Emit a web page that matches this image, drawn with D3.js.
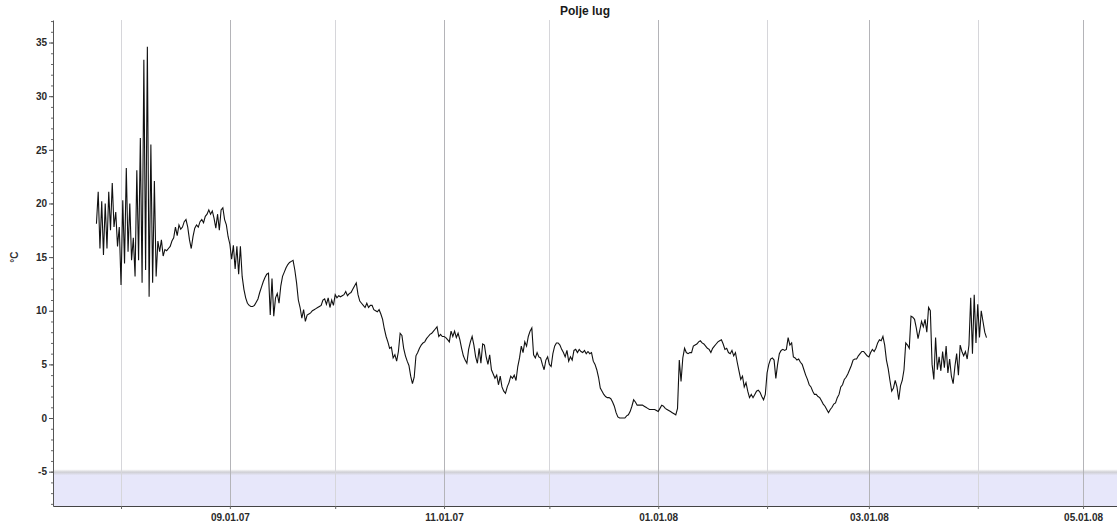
<!DOCTYPE html>
<html>
<head>
<meta charset="utf-8">
<script src="https://cdn.jsdelivr.net/npm/d3@7"></script>
<style>
  html, body { margin: 0; padding: 0; background: #fff; }
  svg { display: block; }
  text { font-family: "Liberation Sans", Arial, sans-serif; }
</style>
</head>
<body>
<svg id="chart" width="1117" height="527"></svg>
<script>
// ---------------- data ----------------
const chartTitle = "Polje lug";
const yLabel = "°C";
// half-daily temperature readings, first reading 25 Jul 2007 00:00, one every 12 h
const startDate = "2007-07-25T00:00";
const stepHours = 12;
const temps = [
  18.1, 21.1, 15.8, 20.2, 15.2, 20.0, 15.8, 21.1, 17.5, 21.9,
  17.8, 19.2, 16.0, 17.8, 12.4, 20.3, 14.4, 23.3, 15.5, 20.0,
  14.7, 16.8, 13.2, 23.1, 14.7, 26.1, 12.6, 33.4, 13.8, 34.6,
  11.3, 25.5, 12.6, 22.1, 13.2, 16.5, 15.5, 16.6, 15.1, 15.7,
  15.6, 15.8, 16.0, 16.5, 16.8, 17.8, 17.0, 18.0, 17.6, 17.8,
  18.3, 18.5, 17.8, 16.6, 15.8, 16.9, 17.7, 18.0, 17.8, 18.3,
  18.5, 18.2, 18.8, 19.0, 19.4, 19.0, 19.3, 18.6, 17.7, 19.0,
  17.5, 19.4, 19.6, 18.5, 18.0, 16.9, 16.2, 14.8, 16.1, 13.9,
  16.0, 13.4, 16.0, 13.2, 12.0, 11.2, 10.7, 10.5, 10.4, 10.4,
  10.5, 10.8, 11.1, 11.7, 12.2, 12.7, 13.1, 13.4, 13.5, 9.6,
  13.0, 9.5, 11.2, 11.6, 10.7, 12.3, 13.2, 13.6, 14.0, 14.3,
  14.5, 14.6, 14.7, 13.8, 12.6, 11.0, 10.3, 9.3, 10.1, 9.0,
  9.6, 9.7, 9.8, 10.0, 10.1, 10.2, 10.3, 10.4, 10.5, 11.0,
  11.1, 10.6, 11.2, 10.3, 11.0, 10.5, 11.5, 11.2, 11.4, 11.3,
  11.4, 11.5, 11.8, 11.4, 11.6, 11.7, 12.0, 12.3, 12.6, 11.5,
  10.9, 10.7, 10.5, 10.3, 10.7, 10.3, 10.5, 10.5, 10.1, 10.0,
  9.9, 10.1, 9.7, 9.2, 8.3, 7.6, 7.1, 6.5, 6.6, 5.6,
  5.9, 5.3, 6.2, 7.9, 7.7, 6.5, 5.8, 5.3, 4.9, 3.9,
  3.2, 3.8, 5.8, 6.1, 6.5, 6.8, 7.0, 7.1, 7.4, 7.6,
  7.8, 7.9, 8.1, 8.3, 8.5, 7.6, 7.8, 7.6, 7.6, 7.5,
  7.3, 7.1, 8.1, 7.6, 8.1, 7.5, 7.9, 7.3, 6.5, 5.8,
  5.4, 5.1, 6.4, 7.1, 7.6, 6.8, 5.7, 5.1, 6.5, 5.1,
  6.9, 6.8, 5.7, 5.0, 5.9, 4.5, 4.1, 3.7, 4.0, 3.1,
  3.9, 2.9, 2.5, 2.3, 2.9, 3.3, 3.9, 3.7, 4.0, 3.5,
  4.8, 5.6, 6.7, 6.1, 7.1, 6.7, 7.6, 8.1, 8.4, 5.9,
  5.6, 6.1, 5.7, 5.6, 5.0, 4.5, 5.4, 5.7, 5.0, 4.8,
  6.0, 6.7, 7.0, 7.0, 6.8, 6.4, 6.1, 5.7, 6.3, 5.3,
  5.7, 5.4, 6.3, 6.4, 6.1, 6.4, 6.2, 6.1, 6.3, 6.0,
  6.2, 6.0, 6.1, 5.3, 5.0, 4.5, 3.8, 2.8, 2.5, 2.2,
  2.0, 1.9, 1.9, 1.8, 1.5, 1.1, 0.5, 0.1, 0.0, 0.0,
  0.0, 0.0, 0.2, 0.3, 0.6, 1.1, 1.7, 1.5, 1.2, 1.2,
  1.2, 1.2, 1.1, 1.0, 0.9, 0.8, 0.8, 0.8, 0.8, 0.7,
  0.6, 0.9, 1.2, 1.1, 0.9, 0.8, 0.7, 0.6, 0.5, 0.4,
  0.3, 0.9, 5.4, 3.4, 5.6, 6.5, 6.1, 6.0, 6.1, 6.1,
  6.7, 6.8, 6.9, 7.1, 7.2, 7.0, 6.9, 6.7, 6.5, 6.4,
  6.1, 6.5, 6.7, 6.9, 7.1, 7.2, 7.3, 6.9, 6.4, 6.5,
  6.1, 6.0, 6.3, 5.8, 6.1, 5.2, 4.4, 3.6, 3.9, 2.9,
  3.3, 2.5, 1.9, 2.2, 1.9, 2.2, 2.5, 2.6, 2.4, 2.0,
  1.7, 2.2, 4.2, 5.0, 5.5, 5.6, 5.4, 3.7, 5.0, 6.0,
  6.3, 6.4, 6.3, 6.4, 7.5, 6.8, 7.0, 5.7, 5.6, 5.4,
  5.5, 5.2, 5.0, 4.5, 4.0, 3.6, 3.1, 2.9, 2.5, 2.2,
  2.2, 2.0, 1.9, 1.6, 1.3, 1.1, 0.8, 0.5, 0.8, 1.0,
  1.3, 1.4, 1.9, 2.2, 2.9, 3.1, 3.6, 3.8, 4.1, 4.5,
  4.9, 5.4, 5.5, 5.5, 5.8, 6.0, 6.2, 6.2, 6.0, 5.8,
  5.7, 6.1, 6.4, 6.2, 6.5, 7.0, 7.3, 7.2, 7.6, 6.8,
  5.4, 4.6, 3.5, 2.5, 2.8, 3.5, 2.9, 1.7, 3.0, 3.5,
  4.5, 7.0, 6.8, 6.5, 9.5, 9.4, 9.2, 8.4, 7.4, 8.2,
  9.0, 8.5, 9.2, 8.0, 10.3, 10.0, 5.0, 3.6, 7.5, 4.5,
  5.7, 4.4, 6.2, 4.7, 6.7, 4.2, 5.5, 3.9, 3.2, 4.8,
  6.0, 4.0, 6.8, 6.2, 5.8, 6.2, 5.5, 6.8, 11.2, 6.0,
  11.5, 7.0, 10.6, 7.5, 10.0, 9.0, 8.0, 7.5
];
const xDomain = ["2007-07-12T15:00", "2008-05-10T16:00"];
const monthTicks = ["2007-08-01", "2007-09-01", "2007-10-01", "2007-11-01", "2007-12-01",
                    "2008-01-01", "2008-02-01", "2008-03-01", "2008-04-01", "2008-05-01"];
const labeledTicks = ["2007-09-01", "2007-11-01", "2008-01-01", "2008-03-01", "2008-05-01"];
const yDomain = [-8.2, 37.1];
const yMajorTicks = [-5, 0, 5, 10, 15, 20, 25, 30, 35];
const yMinorTicks = d3.range(-8, 38, 1);
const bandTop = -5.05;   // shaded region from here to the bottom of the axis

// ---------------- drawing ----------------
const W = 1117, H = 527;
const m = { left: 53, right: 0, top: 20, bottom: 21 };
const svg = d3.select("#chart");
const parse = d3.timeParse("%Y-%m-%dT%H:%M");
const parseDay = d3.timeParse("%Y-%m-%d");
const fmt = d3.timeFormat("%m.%d.%y");

const x = d3.scaleTime().domain(xDomain.map(parse)).range([m.left, W - m.right]);
const y = d3.scaleLinear().domain(yDomain).range([H - m.bottom, m.top]);

const t0 = parse(startDate);
const data = temps.map((v, i) => ({ date: d3.timeHour.offset(t0, i * stepHours), v }));

// band with shadow at top
const defs = svg.append("defs");
const g1 = defs.append("linearGradient").attr("id", "shade").attr("x1", 0).attr("y1", 0).attr("x2", 0).attr("y2", 1);
g1.append("stop").attr("offset", "0%").attr("stop-color", "#ffffff");
g1.append("stop").attr("offset", "50%").attr("stop-color", "#cfcfd4");
g1.append("stop").attr("offset", "100%").attr("stop-color", "#e6e6f8");

svg.append("rect")
  .attr("x", m.left).attr("width", W - m.right - m.left)
  .attr("y", y(bandTop)).attr("height", y(yDomain[0]) - y(bandTop))
  .attr("fill", "#e7e7fa");
svg.append("rect")
  .attr("x", m.left).attr("width", W - m.right - m.left)
  .attr("y", y(bandTop) - 3).attr("height", 6)
  .attr("fill", "url(#shade)");

// vertical month grid lines
const labeledSet = new Set(labeledTicks);
svg.append("g").selectAll("line").data(monthTicks).join("line")
  .attr("x1", d => Math.round(x(parseDay(d))) + 0.5)
  .attr("x2", d => Math.round(x(parseDay(d))) + 0.5)
  .attr("y1", m.top).attr("y2", H - m.bottom)
  .attr("stroke", d => labeledSet.has(d) ? "#b4b4b8" : "#d6d6da")
  .attr("stroke-width", 1);

// line
const line = d3.line().x(d => x(d.date)).y(d => y(d.v));
svg.append("path").datum(data)
  .attr("d", line)
  .attr("fill", "none")
  .attr("stroke", "#111")
  .attr("stroke-width", 1.1)
  .attr("stroke-linejoin", "miter");

// y axis
const yMinor = svg.append("g").attr("transform", `translate(${m.left},0)`)
  .call(d3.axisLeft(y).tickValues(yMinorTicks).tickSize(2).tickFormat(""));
yMinor.select(".domain").remove();
yMinor.selectAll("line").attr("stroke", "#666");

const yAx = svg.append("g").attr("transform", `translate(${m.left},0)`)
  .call(d3.axisLeft(y).tickValues(yMajorTicks).tickSize(4).tickPadding(2).tickSizeOuter(0)
    .tickFormat(d => String(d)));
yAx.select(".domain").attr("stroke", "#555");
yAx.selectAll("line").attr("stroke", "#555");
yAx.selectAll("text").attr("font-size", 10).attr("font-weight", "bold").attr("fill", "#2a2a2a")
  .attr("font-family", "Liberation Sans, Arial, sans-serif");

// x axis
const xAx = svg.append("g").attr("transform", `translate(0,${H - m.bottom})`)
  .call(d3.axisBottom(x).tickValues(monthTicks.map(parseDay)).tickSize(3).tickPadding(5)
    .tickFormat(d => labeledSet.has(d3.timeFormat("%Y-%m-%d")(d)) ? fmt(d) : "").tickSizeOuter(0));
xAx.select(".domain").attr("stroke", "#444").attr("stroke-width", 1.2);
xAx.selectAll("line").attr("stroke", "#666");
xAx.selectAll("text").attr("font-size", 10).attr("font-weight", "bold").attr("fill", "#2a2a2a")
  .attr("font-family", "Liberation Sans, Arial, sans-serif");

// title
svg.append("text")
  .attr("x", (m.left + W - m.right) / 2).attr("y", 15)
  .attr("text-anchor", "middle")
  .attr("font-size", 12).attr("font-weight", "bold").attr("fill", "#1a1a1a")
  .text(chartTitle);

// y label
svg.append("text")
  .attr("transform", `translate(18,${y(15)}) rotate(-90)`)
  .attr("text-anchor", "middle")
  .attr("font-size", 10).attr("font-weight", "bold").attr("fill", "#333")
  .text(yLabel);
</script>
</body>
</html>
